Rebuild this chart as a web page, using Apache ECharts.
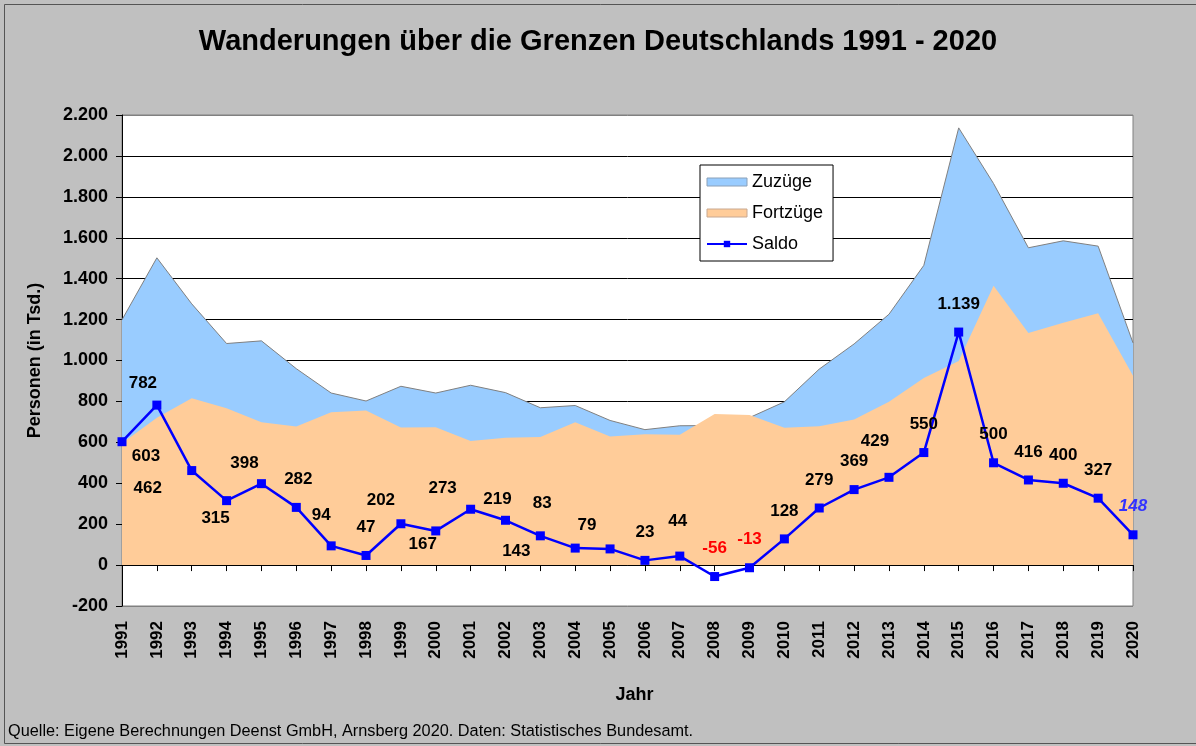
<!DOCTYPE html>
<html>
<head>
<meta charset="utf-8">
<script src="https://cdn.jsdelivr.net/npm/echarts@6/dist/echarts.min.js"></script>
<style>
  html, body { margin: 0; padding: 0; background: #c0c0c0; }
  #chart { width: 1196px; height: 746px; }
</style>
</head>
<body>
<div id="chart"></div>
<script>
// Wanderungen über die Grenzen Deutschlands (in Tsd.)
const years = ['1991', '1992', '1993', '1994', '1995', '1996', '1997', '1998', '1999', '2000',
  '2001', '2002', '2003', '2004', '2005', '2006', '2007', '2008', '2009', '2010',
  '2011', '2012', '2013', '2014', '2015', '2016', '2017', '2018', '2019', '2020']
const zuzuege = [1199, 1502, 1277, 1083, 1096, 960, 841, 802, 874, 841,
  879, 843, 769, 780, 707, 662, 681, 682, 721, 798,
  958, 1081, 1226, 1465, 2137, 1865, 1551, 1585, 1559, 1086]
const fortzuege = [596, 720, 815, 767, 698, 677, 747, 755, 672, 674,
  607, 623, 626, 698, 628, 639, 637, 738, 734, 671,
  679, 712, 798, 915, 998, 1365, 1135, 1185, 1231, 925]
const saldo = [603, 782, 462, 315, 398, 282, 94, 47, 202, 167,
  273, 219, 143, 83, 79, 23, 44, -56, -13, 128,
  279, 369, 429, 550, 1139, 500, 416, 400, 327, 148]
const yTicks = [-200, 0, 200, 400, 600, 800, 1000, 1200, 1400, 1600, 1800, 2000, 2200]

// Beschriftungs-Versatz (wie im Original etwas verstreut)
const labelShift = {
  '1991': [24, 15], '1992': [-14, -22], '1993': [-44, 18], '1994': [-11, 18],
  '1995': [-17, -20], '1996': [2, -28], '1997': [-10, -31], '1999': [-20, -23],
  '2000': [-13, 13], '2001': [-28, -21], '2002': [-8, -21], '2003': [-24, 15],
  '2004': [-33, -45], '2005': [-23, -24], '2007': [-2, -35], '2013': [-14, -36]
}

const font = 'Liberation Sans, Arial, sans-serif'
const fmt = v => {
  const s = String(Math.abs(v)).replace(/\B(?=(\d{3})+(?!\d))/g, '.')
  return (v < 0 ? '-' : '') + s
}

const saldoData = saldo.map((v, i) => {
  const y = years[i]
  const label = { offset: labelShift[y] || [0, -28] }
  if (v < 0) label.color = '#ff0000'
  if (y === '2020') { label.color = '#3333ff'; label.fontStyle = 'italic' }
  return { value: v, label }
})

const chart = echarts.init(document.getElementById('chart'))
const option = {
  backgroundColor: '#c0c0c0',
  animation: false,
  textStyle: { fontFamily: font },
  title: {
    text: 'Wanderungen über die Grenzen Deutschlands 1991 - 2020',
    left: 'center',
    top: 22,
    textStyle: { fontFamily: font, fontSize: 29, fontWeight: 'bold', color: '#000' }
  },
  legend: {
    orient: 'vertical',
    left: 700,
    top: 165,
    backgroundColor: '#fff',
    borderColor: '#000',
    borderWidth: 1,
    borderRadius: 0,
    padding: [8, 10, 8, 6],
    itemGap: 13,
    itemWidth: 40,
    itemHeight: 8,
    textStyle: { fontFamily: font, fontSize: 18, color: '#000' },
    data: [
      { name: 'Zuzüge', icon: 'rect', itemStyle: { color: '#99ccff', borderColor: '#8aa0b8', borderWidth: 1 } },
      { name: 'Fortzüge', icon: 'rect', itemStyle: { color: '#ffcc99', borderColor: '#c8a890', borderWidth: 1 } },
      { name: 'Saldo' }
    ]
  },
  grid: {
    left: 122, right: 63, top: 115, bottom: 140,
    show: true,
    backgroundColor: '#fff',
    borderColor: '#808080',
    borderWidth: 1
  },
  xAxis: [
    {
      type: 'category',
      data: years,
      boundaryGap: false,
      axisLine: { onZero: true, lineStyle: { color: '#000', width: 1 } },
      axisTick: { show: true, length: 6, lineStyle: { color: '#000' } },
      axisLabel: { show: false },
      splitLine: { show: false }
    },
    {
      type: 'category',
      data: years,
      position: 'bottom',
      boundaryGap: false,
      axisLine: { show: false, onZero: false },
      axisTick: { show: false },
      axisLabel: {
        rotate: 90, margin: 15, interval: 0,
        fontFamily: font, fontSize: 17, fontWeight: 'bold', color: '#000'
      },
      name: 'Jahr',
      nameLocation: 'middle',
      nameGap: 80,
      nameTextStyle: { fontFamily: font, fontSize: 18, fontWeight: 'bold', color: '#000', padding: [0, 0, 0, 14] }
    }
  ],
  yAxis: {
    type: 'value',
    min: yTicks[0],
    max: yTicks[yTicks.length - 1],
    interval: 200,
    axisLine: { show: true, lineStyle: { color: '#000' } },
    axisTick: { show: true, length: 6, lineStyle: { color: '#000' } },
    axisLabel: {
      margin: 14, formatter: fmt,
      fontFamily: font, fontSize: 18, fontWeight: 'bold', color: '#000'
    },
    splitLine: {
      show: true,
      lineStyle: {
        color: yTicks.map((t, i) => (i === 0 || i === yTicks.length - 1) ? '#808080' : '#000'),
        width: 1
      }
    },
    name: 'Personen (in Tsd.)',
    nameLocation: 'middle',
    nameGap: 78,
    nameTextStyle: { fontFamily: font, fontSize: 18, fontWeight: 'bold', color: '#000' }
  },
  series: [
    {
      name: 'Zuzüge',
      type: 'line',
      data: zuzuege,
      showSymbol: false,
      symbol: 'none',
      itemStyle: { color: '#99ccff' },
      lineStyle: { color: '#808080', width: 1 },
      areaStyle: { color: '#99ccff', opacity: 1 },
      z: 1
    },
    {
      name: 'Fortzüge',
      type: 'line',
      data: fortzuege,
      showSymbol: false,
      symbol: 'none',
      itemStyle: { color: '#ffcc99' },
      lineStyle: { color: '#ffcc99', width: 0 },
      areaStyle: { color: '#ffcc99', opacity: 1 },
      z: 2
    },
    {
      name: 'Saldo',
      type: 'line',
      data: saldoData,
      symbol: 'rect',
      symbolSize: 9,
      itemStyle: { color: '#0000ff' },
      lineStyle: { color: '#0000ff', width: 2.5 },
      label: {
        show: true,
        position: 'inside',
        formatter: p => fmt(p.value),
        fontFamily: font, fontSize: 17, fontWeight: 'bold', color: '#000'
      },
      z: 3
    }
  ],
  graphic: [
    {
      type: 'rect',
      shape: { x: 4.5, y: 4.5, width: 1200, height: 739 },
      style: { fill: 'none', stroke: '#555', lineWidth: 1 },
      silent: true
    },
    {
      type: 'text',
      left: 8,
      top: 724,
      style: {
        text: 'Quelle: Eigene Berechnungen Deenst GmbH, Arnsberg 2020. Daten: Statistisches Bundesamt.',
        fontFamily: font, fontSize: 16.3, fill: '#000'
      }
    }
  ]
}
chart.setOption(option)
window.addEventListener('resize', () => chart.resize())
</script>
</body>
</html>
